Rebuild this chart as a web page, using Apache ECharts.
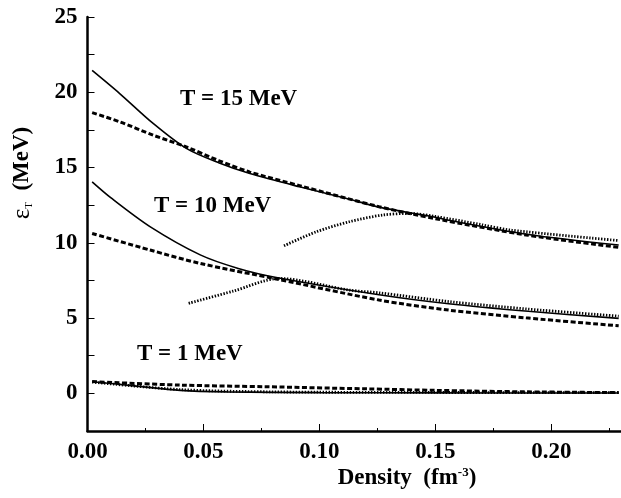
<!DOCTYPE html>
<html>
<head>
<meta charset="utf-8">
<script src="https://cdn.jsdelivr.net/npm/echarts@6/dist/echarts.min.js"></script>
<style>
html,body{margin:0;padding:0;background:#fff;}
#c{width:621px;height:498px;}
</style>
</head>
<body>
<div id="c"></div>
<script>
// ---- data ----
const xTicks = [0.00, 0.05, 0.10, 0.15, 0.20];
const yTicks = [0, 5, 10, 15, 20, 25];

const t15SolidX = [0.002, 0.014, 0.0283, 0.0426, 0.0568, 0.070, 0.0914, 0.113, 0.1257, 0.150, 0.1557, 0.190, 0.229];
const t15SolidY = [21.45, 19.9, 17.93, 16.27, 15.3, 14.6, 13.72, 12.9, 12.37, 11.7, 11.5, 10.55, 9.85];

const t15DashX = [0.002, 0.014, 0.0283, 0.0426, 0.0568, 0.070, 0.0914, 0.1257, 0.150, 0.190, 0.229];
const t15DashY = [18.65, 18.03, 17.15, 16.37, 15.45, 14.7, 13.8, 12.4, 11.6, 10.5, 9.7];

const t15DotX = [0.0847, 0.0986, 0.1129, 0.127, 0.1386, 0.150, 0.170, 0.1829, 0.229];
const t15DotY = [9.8, 10.73, 11.4, 11.84, 11.95, 11.75, 11.2, 10.84, 10.15];

const t10SolidX = [0.002, 0.010, 0.0271, 0.0486, 0.065, 0.0814, 0.1257, 0.1557, 0.190, 0.229];
const t10SolidY = [14.05, 13.0, 11.06, 9.2, 8.3, 7.7, 6.55, 5.95, 5.45, 4.98];

const t10DashX = [0.002, 0.027, 0.0486, 0.0814, 0.1257, 0.1557, 0.190, 0.229];
const t10DashY = [10.62, 9.52, 8.63, 7.6, 6.2, 5.53, 5.0, 4.49];

const t10DotX = [0.0436, 0.0628, 0.0828, 0.1129, 0.1257, 0.1557, 0.190, 0.229];
const t10DotY = [5.98, 6.79, 7.63, 6.86, 6.68, 6.1, 5.6, 5.13];

const t1SolidX = [0.002, 0.020, 0.040, 0.060, 0.100, 0.150, 0.229];
const t1SolidY = [0.77, 0.5, 0.2, 0.1, 0.05, 0.03, 0.02];

const t1DashX = [0.002, 0.040, 0.077, 0.120, 0.150, 0.190, 0.229];
const t1DashY = [0.78, 0.55, 0.44, 0.3, 0.2, 0.1, 0.05];

const t1DotX = [0.002, 0.040, 0.080, 0.150, 0.229];
const t1DotY = [0.75, 0.25, 0.1, 0.06, 0.05];

const labelT15 = 'T = 15 MeV';
const labelT10 = 'T = 10 MeV';
const labelT1 = 'T = 1 MeV';

// ---- helpers ----
function pairs(xs, ys){ return xs.map((x,i)=>[x, ys[i]]); }
const FONT = '"Liberation Serif","Times New Roman",serif';
const styles = {
  solid: {color:'#000', width:1.6, type:'solid'},
  dash: {color:'#000', width:3, type:[5,2.5]},
  dot: {color:'#000', width:2.8, type:[1.4,1.6]}
};
function line(name, xs, ys, st){
  return {
    name, type:'line', data: pairs(xs, ys), showSymbol:false, symbol:'none',
    smooth:0.3, lineStyle: styles[st], silent:true, z: st==='solid'?3:2
  };
}

const chart = echarts.init(document.getElementById('c'), null, {renderer:'canvas'});
chart.setOption({
  animation:false,
  backgroundColor:'#fff',
  grid:{left:87.5, top:17, width:535, height:414, containLabel:false},
  xAxis:{
    type:'value', min:0, max:0.23, interval:0.05,
    axisLine:{show:true, onZero:false, lineStyle:{color:'#000', width:2.5}},
    axisTick:{show:true, inside:true, length:7, lineStyle:{color:'#000', width:1}},
    minorTick:{show:true, splitNumber:2, length:3, lineStyle:{color:'#000', width:1}},
    splitLine:{show:false},
    axisLabel:{
      color:'#000', fontFamily:FONT, fontWeight:'bold', fontSize:23, margin:10,
      showMaxLabel:false,
      formatter:function(v){
        for (const t of xTicks){ if (Math.abs(v-t)<1e-6) return t.toFixed(2); }
        return '';
      }
    }
  },
  yAxis:{
    type:'value', min:-2.5, max:25, interval:2.5,
    axisLine:{show:true, onZero:false, lineStyle:{color:'#000', width:2.5}},
    axisTick:{show:true, inside:true, length:7, lineStyle:{color:'#000', width:1}},
    splitLine:{show:false},
    axisLabel:{
      color:'#000', fontFamily:FONT, fontWeight:'bold', fontSize:23, margin:10,
      formatter:function(v){
        for (const t of yTicks){ if (Math.abs(v-t)<1e-6) return String(t); }
        return '';
      }
    }
  },
  series:[
    line('T15 solid', t15SolidX, t15SolidY, 'solid'),
    line('T15 dashed', t15DashX, t15DashY, 'dash'),
    line('T15 dotted', t15DotX, t15DotY, 'dot'),
    line('T10 solid', t10SolidX, t10SolidY, 'solid'),
    line('T10 dashed', t10DashX, t10DashY, 'dash'),
    line('T10 dotted', t10DotX, t10DotY, 'dot'),
    line('T1 solid', t1SolidX, t1SolidY, 'solid'),
    line('T1 dashed', t1DashX, t1DashY, 'dash'),
    line('T1 dotted', t1DotX, t1DotY, 'dot')
  ],
  graphic:[
    {type:'text', left:180, top:88, style:{text:labelT15, fill:'#000', font:'bold 23px '+FONT}},
    {type:'text', left:154, top:195, style:{text:labelT10, fill:'#000', font:'bold 23px '+FONT}},
    {type:'text', left:137, top:343, style:{text:labelT1, fill:'#000', font:'bold 23px '+FONT}},
    {type:'text', x:22, y:173, rotation:Math.PI/2,
      style:{
        text:'{e|ε}{s|T}{m|  (MeV)}', fill:'#000', align:'center', verticalAlign:'middle',
        rich:{
          e:{fontFamily:FONT, fontSize:25, fill:'#000', fontWeight:'normal'},
          s:{fontFamily:FONT, fontSize:11, fill:'#000', fontWeight:'normal', verticalAlign:'bottom', padding:[8,0,0,0]},
          m:{fontFamily:FONT, fontSize:23, fill:'#000', fontWeight:'bold'}
        }
      }},
    {type:'text', x:407, y:478,
      style:{
        text:'{m|Density  (fm}{p|-3}{m|)}', fill:'#000', align:'center', verticalAlign:'middle',
        rich:{
          m:{fontFamily:FONT, fontSize:23, fill:'#000', fontWeight:'bold', lineHeight:24},
          p:{fontFamily:FONT, fontSize:13, fill:'#000', fontWeight:'bold', verticalAlign:'top', lineHeight:24, padding:[0,0,10,0]}
        }
      }}
  ]
});
</script>
</body>
</html>
